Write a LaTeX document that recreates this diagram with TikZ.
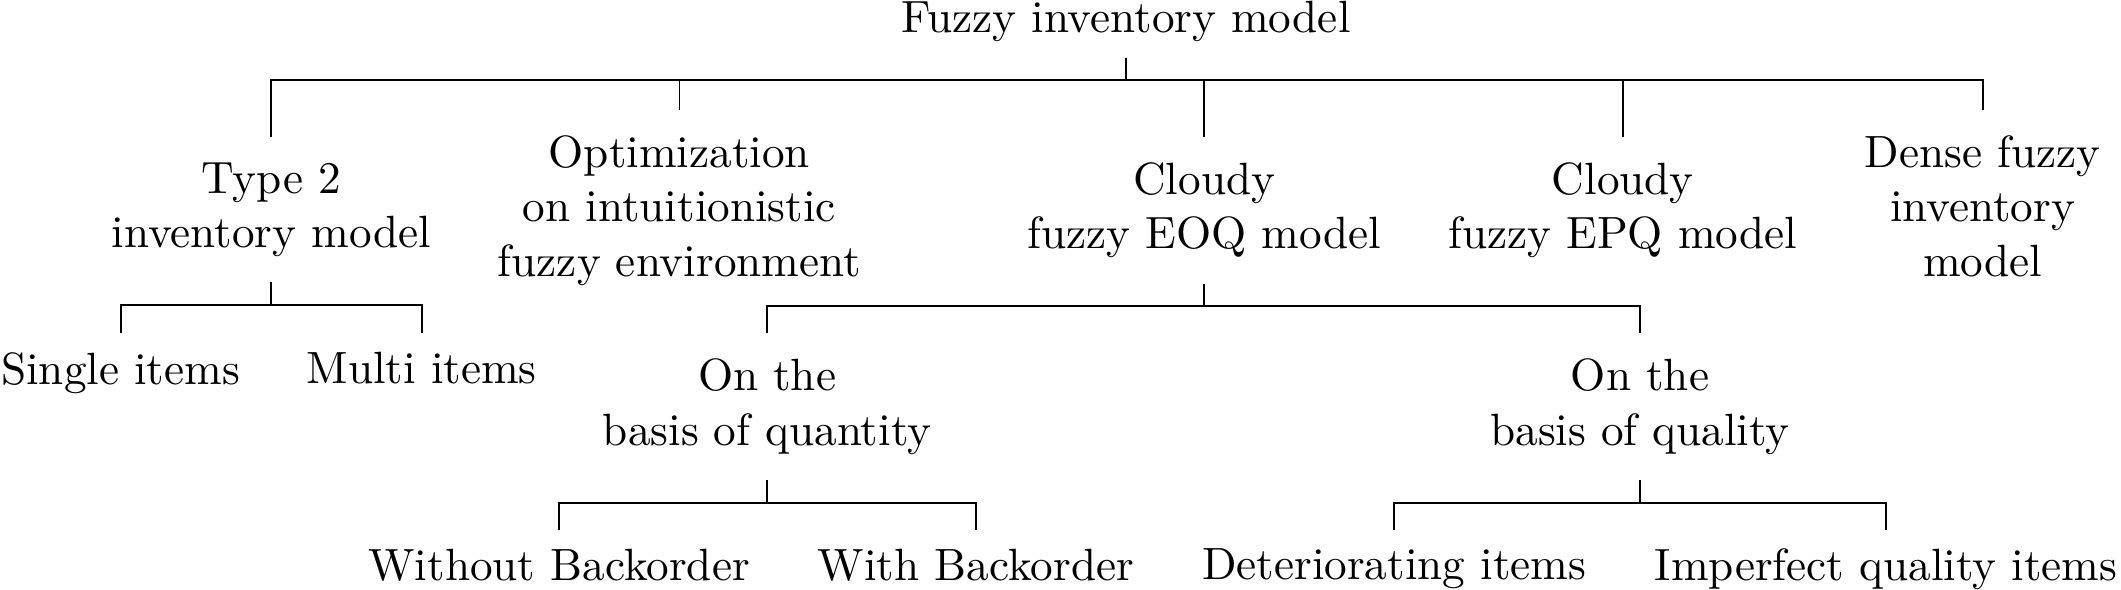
\documentclass[tikz,border=0pt]{standalone}
\usepackage{amsmath}
\usetikzlibrary{calc,positioning}

\begin{document}
\begin{tikzpicture}[every node/.style={align=center}, branch/.style={anchor=north, inner sep=5.5pt}, leaf/.style={anchor=north, inner sep=4pt}]
    \useasboundingbox (0,0) rectangle (469.2pt,-130.5pt);
    \node[anchor=base] (fuzzy) at (249.1pt,-7.14pt) {Fuzzy inventory model};
    % first level
    \node[branch] (type)  at (60pt,-30.25pt)    {Type 2\\inventory model};
    \node[branch] (optim) at (150.3pt,-24.33pt) {Optimization\\on intuitionistic\\fuzzy environment};
    \node[branch] (eoq)   at (266.4pt,-30.25pt) {Cloudy\\fuzzy EOQ model};
    \node[branch] (epq)   at (359pt,-30.25pt)   {Cloudy\\fuzzy EPQ model};
    \node[branch] (dense) at (438.6pt,-24.33pt) {Dense fuzzy\\inventory\\model};
    % second level
    \node[leaf]   (single)   at (26.7pt,-73.7pt)  {Single items};
    \node[leaf]   (multi)    at (93.3pt,-73.7pt)  {Multi items};
    \node[branch] (quantity) at (169.7pt,-73.7pt) {On the\\basis of quantity};
    \node[branch] (quality)  at (362.8pt,-73.7pt) {On the\\basis of quality};
    % third level
    \node[leaf] (without) at (123.7pt,-117.2pt) {Without Backorder};
    \node[leaf] (with)    at (215.9pt,-117.2pt) {With Backorder};
    \node[leaf] (deter)   at (308.4pt,-117.2pt) {Deteriorating items};
    \node[leaf] (imperf)  at (417.2pt,-117.2pt) {Imperfect quality items};

    \foreach \c in {type,optim,eoq,epq,dense}
        \draw (fuzzy.south) -- ++(0,-5pt) -| (\c.north);
    \foreach \c in {single,multi}
        \draw (type.south) -- ++(0,-5pt) -| (\c.north);
    \foreach \c in {quantity,quality}
        \draw (eoq.south) -- ++(0,-5pt) -| (\c.north);
    \foreach \c in {without,with}
        \draw (quantity.south) -- ++(0,-5pt) -| (\c.north);
    \foreach \c in {deter,imperf}
        \draw (quality.south) -- ++(0,-5pt) -| (\c.north);
\end{tikzpicture}
\end{document}
